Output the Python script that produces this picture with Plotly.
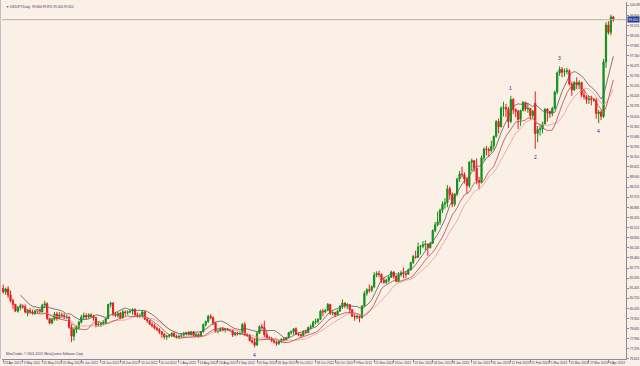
import pandas as pd
import plotly.graph_objects as go

# ---------------- data (USDJPY, Daily) ----------------
dates = [d.strftime("%Y-%m-%d") for d in pd.bdate_range("2012-04-23", "2013-04-10")
         if d.strftime("%m-%d") not in ("12-25", "01-01")]

opens = [
 81.40,81.15,81.35,80.95,80.55,80.30,79.85,80.10,80.20,80.15,
 79.70,79.90,79.80,79.70,79.85,79.95,79.80,80.25,80.35,79.35,
 79.05,79.30,79.65,79.35,79.60,79.55,79.40,79.45,78.75,78.15,
 78.60,78.75,79.10,79.45,79.55,79.45,79.60,79.50,79.40,78.90,
 78.95,79.00,79.05,79.35,80.30,80.40,79.65,79.55,79.70,79.40,
 79.80,79.75,79.80,79.85,79.95,79.60,79.50,79.55,79.80,79.30,
 79.20,78.95,78.85,78.70,78.60,78.45,78.30,78.10,78.15,78.20,
 78.35,78.15,78.10,78.15,78.25,78.30,78.40,78.25,78.45,78.20,
 78.25,78.15,78.45,78.95,79.15,79.50,79.40,79.05,78.45,78.50,
 78.65,78.55,78.65,78.60,78.55,78.25,78.35,78.30,78.35,78.95,
 78.25,78.20,77.85,77.75,77.55,78.35,78.80,78.75,78.25,78.05,
 78.00,77.85,77.75,77.65,77.80,77.95,77.90,78.05,78.40,78.45,
 78.65,78.30,78.25,78.20,78.45,78.40,78.75,78.80,79.10,79.15,
 79.30,79.85,79.80,79.90,80.30,79.70,79.75,79.60,79.85,80.20,
 80.40,80.25,80.30,79.95,79.50,79.45,79.50,79.40,80.20,81.05,
 81.30,81.25,81.50,82.30,82.40,82.35,81.95,81.80,81.95,82.15,
 82.50,82.20,81.90,82.30,82.45,82.40,82.35,82.65,83.15,83.55,
 83.50,84.20,84.25,84.35,84.40,84.15,84.45,85.30,85.70,85.90,
 86.70,87.10,87.20,88.15,87.75,87.10,87.80,88.80,89.15,89.10,
 88.80,88.35,89.95,90.05,89.55,88.70,88.60,90.25,90.85,90.80,
 90.75,91.05,91.70,92.70,92.35,93.60,93.65,93.55,92.70,94.20,
 93.50,93.40,92.85,93.45,94.00,93.55,93.60,93.10,93.95,91.90,
 92.15,92.20,92.55,93.55,93.40,93.25,93.60,94.70,96.00,96.25,
 96.05,96.10,96.15,95.25,94.85,95.35,95.20,95.35,94.50,94.40,
 94.20,94.25,94.20,94.15,93.25,93.35,93.05,96.75,99.25,98.75,
 99.80]

highs = [
 81.65,81.45,81.55,81.25,80.70,80.35,80.20,80.35,80.30,80.30,
 80.00,80.05,79.95,79.95,80.00,80.00,80.35,80.55,80.45,79.40,
 79.40,79.80,79.80,79.80,79.75,79.70,79.60,79.50,78.95,78.75,
 78.85,79.20,79.60,79.75,79.70,79.70,79.70,79.60,79.45,79.15,
 79.10,79.25,79.40,80.35,80.50,80.45,79.80,79.80,79.80,79.95,
 79.90,79.90,79.90,80.05,80.05,79.75,79.70,79.90,79.85,79.40,
 79.25,79.10,79.00,78.80,78.70,78.50,78.35,78.25,78.30,78.40,
 78.45,78.25,78.20,78.35,78.45,78.45,78.50,78.50,78.50,78.40,
 78.35,78.50,79.00,79.20,79.60,79.65,79.50,79.10,78.60,78.75,
 78.75,78.70,78.70,78.65,78.60,78.45,78.45,78.40,79.05,79.10,
 78.35,78.30,78.00,78.00,78.50,78.90,79.00,79.20,78.50,78.15,
 78.10,77.95,77.85,77.85,78.00,78.10,78.10,78.45,78.55,78.70,
 78.75,78.40,78.35,78.55,78.60,78.80,78.95,79.20,79.35,79.35,
 79.95,80.00,80.00,80.40,80.35,79.85,79.80,79.95,80.25,80.65,
 80.45,80.40,80.30,80.00,79.65,79.60,79.55,80.25,81.20,81.40,
 81.65,81.60,82.50,82.55,82.60,82.40,82.15,82.05,82.25,82.60,
 82.55,82.30,82.50,82.60,82.80,82.55,82.75,83.20,83.65,83.95,
 84.50,84.35,84.60,84.65,84.45,84.55,85.40,85.90,86.60,86.80,
 87.30,87.50,88.40,88.30,87.90,87.85,88.90,89.35,89.65,89.25,
 88.95,90.00,90.20,90.10,90.20,88.95,90.40,90.95,91.05,90.95,
 91.40,91.75,92.80,92.90,93.75,94.05,93.90,93.70,94.45,94.30,
 93.60,93.50,93.50,94.10,94.05,93.95,93.60,93.50,94.75,92.40,
 92.45,92.70,93.60,93.60,93.40,93.70,94.80,96.10,96.45,96.40,
 96.30,96.35,96.25,95.40,95.45,95.70,95.50,95.40,94.90,94.50,
 94.45,94.45,94.30,94.30,93.50,93.50,96.95,99.45,99.50,99.95,
 99.87]

lows = [
 81.05,80.95,80.75,80.45,80.00,79.80,79.75,79.90,80.00,79.70,
 79.50,79.65,79.60,79.60,79.70,79.70,79.75,80.05,79.25,78.95,
 78.95,79.20,79.20,79.30,79.40,79.30,79.30,78.65,77.75,77.85,
 78.35,78.60,79.00,79.30,79.30,79.35,79.40,79.20,78.75,78.80,
 78.80,78.90,78.95,79.30,80.10,79.50,79.45,79.40,79.30,79.35,
 79.55,79.60,79.70,79.60,79.50,79.40,79.40,79.40,79.25,79.05,
 78.90,78.75,78.60,78.50,78.30,78.05,77.95,77.90,78.05,78.10,
 78.10,78.00,78.00,78.05,78.05,78.20,78.20,78.20,78.15,78.10,
 78.05,78.10,78.40,78.80,79.05,79.30,78.90,78.40,78.35,78.45,
 78.50,78.40,78.50,78.50,78.10,78.15,78.20,78.25,78.30,78.15,
 78.10,77.80,77.65,77.40,77.50,78.30,78.60,78.10,77.95,77.90,
 77.75,77.65,77.50,77.55,77.70,77.80,77.85,78.00,78.25,78.25,
 78.25,78.15,78.05,78.15,78.30,78.35,78.60,78.75,78.95,79.00,
 79.25,79.50,79.70,79.85,79.60,79.55,79.45,79.55,79.80,80.00,
 80.05,80.00,79.70,79.45,79.20,79.30,79.10,79.35,80.15,80.90,
 81.10,81.15,81.40,82.15,82.15,81.75,81.70,81.70,81.80,82.10,
 82.05,81.80,81.85,82.20,82.10,82.10,82.30,82.60,83.05,83.40,
 83.45,83.70,84.10,83.95,83.60,84.10,84.40,85.20,85.60,85.70,
 86.50,86.80,86.90,87.40,86.90,86.95,87.65,88.60,88.90,88.50,
 87.80,88.20,89.35,89.30,88.45,88.10,88.55,90.05,90.40,90.30,
 90.60,90.80,91.60,91.90,92.30,93.05,93.00,92.25,92.60,93.20,
 93.00,92.20,92.40,93.40,93.40,93.30,92.80,92.95,90.85,91.30,
 91.75,91.90,92.50,92.70,92.95,93.05,93.50,94.55,95.80,95.70,
 95.75,95.90,95.15,94.45,94.80,94.90,94.90,94.35,94.20,93.90,
 93.90,93.80,94.05,92.90,92.60,92.80,92.95,96.35,98.60,98.55,
 99.45]

closes = [
 81.15,81.35,80.95,80.55,80.30,79.85,80.10,80.20,80.15,79.80,
 79.90,79.80,79.70,79.85,79.95,79.80,80.25,80.35,79.35,79.05,
 79.30,79.65,79.35,79.60,79.55,79.40,79.45,78.75,78.15,78.60,
 78.75,79.10,79.45,79.55,79.45,79.60,79.50,79.40,78.90,78.95,
 79.00,79.05,79.35,80.30,80.40,79.65,79.55,79.70,79.40,79.80,
 79.75,79.80,79.85,79.95,79.60,79.50,79.55,79.80,79.30,79.20,
 78.95,78.85,78.70,78.60,78.45,78.30,78.10,78.15,78.20,78.35,
 78.15,78.10,78.15,78.25,78.30,78.40,78.25,78.45,78.20,78.25,
 78.15,78.45,78.95,79.15,79.50,79.40,79.05,78.45,78.50,78.65,
 78.55,78.65,78.60,78.55,78.25,78.35,78.30,78.35,78.95,78.25,
 78.20,77.85,77.75,77.55,78.35,78.80,78.75,78.25,78.05,78.00,
 77.85,77.75,77.65,77.80,77.95,77.90,78.05,78.40,78.45,78.65,
 78.30,78.25,78.20,78.45,78.40,78.75,78.80,79.10,79.15,79.30,
 79.85,79.80,79.90,80.30,79.70,79.75,79.60,79.85,80.20,80.40,
 80.25,80.30,79.95,79.50,79.45,79.50,79.40,80.20,81.05,81.30,
 81.25,81.50,82.30,82.40,82.35,81.95,81.80,81.95,82.15,82.50,
 82.20,81.90,82.30,82.45,82.40,82.35,82.65,83.15,83.55,83.50,
 84.20,84.25,84.35,84.40,84.15,84.45,85.30,85.70,85.90,86.70,
 87.10,87.20,88.15,87.75,87.10,87.80,88.80,89.15,89.10,88.80,
 88.35,89.95,90.05,89.55,88.70,88.60,90.25,90.85,90.80,90.75,
 91.05,91.70,92.70,92.35,93.60,93.65,93.55,92.70,94.20,93.50,
 93.40,92.85,93.45,94.00,93.55,93.60,93.10,93.40,91.90,92.15,
 92.20,92.55,93.55,93.40,93.25,93.60,94.70,96.00,96.25,96.05,
 96.10,96.15,95.25,94.85,95.35,95.20,95.35,94.50,94.40,94.20,
 94.25,94.20,94.15,93.25,93.35,93.05,96.75,99.25,98.75,99.80,
 99.61]

x_tick_dates = ["2012-04-23","2012-05-03","2012-05-15","2012-05-25","2012-06-06","2012-06-18",
    "2012-06-28","2012-07-10","2012-07-20","2012-08-01","2012-08-13","2012-08-23","2012-09-04",
    "2012-09-14","2012-09-26","2012-10-08","2012-10-18","2012-10-30","2012-11-09","2012-11-21",
    "2012-12-03","2012-12-13","2012-12-26","2013-01-08","2013-01-18","2013-01-30","2013-02-11",
    "2013-02-21","2013-03-05","2013-03-15","2013-03-27","2013-04-08"]
x_tick_labels = ["23 Apr 2012","3 May 2012","15 May 2012","25 May 2012","6 Jun 2012","18 Jun 2012",
    "28 Jun 2012","10 Jul 2012","20 Jul 2012","1 Aug 2012","13 Aug 2012","23 Aug 2012","4 Sep 2012",
    "14 Sep 2012","26 Sep 2012","8 Oct 2012","18 Oct 2012","30 Oct 2012","9 Nov 2012","21 Nov 2012",
    "3 Dec 2012","13 Dec 2012","26 Dec 2012","8 Jan 2013","18 Jan 2013","30 Jan 2013","11 Feb 2013",
    "21 Feb 2013","5 Mar 2013","15 Mar 2013","27 Mar 2013","8 Apr 2013"]

y_tick_labels = ["76.610","77.295","77.980","78.665","79.350","80.035","80.720","81.405","82.090",
    "82.775","83.460","84.145","84.830","85.515","86.200","86.885","87.570","88.255","88.940",
    "89.625","90.310","90.995","91.680","92.365","93.050","93.735","94.420","95.105","95.790",
    "96.475","97.160","97.845","98.530","99.215","99.900","100.585"]

wave_dates = ["2012-09-13", "2013-02-11", "2013-02-25", "2013-03-11", "2013-04-02"]
wave_labels = ["4", "1", "2", "3", "4"]
wave_above = [False, True, False, True, False]

# ---------------- figure ----------------
BG = "#FBF0E5"
TXT = "#33336e"
AX = "#8a8a9a"
SMALL = 3.2

df = pd.DataFrame({"o": opens, "h": highs, "l": lows, "c": closes}, index=dates)
ma_high = df["h"].rolling(8).mean()
ma_low = df["l"].rolling(8).mean()
ma_low2 = df["l"].rolling(13).mean()

fig = go.Figure()
fig.add_trace(go.Scatter(x=dates, y=ma_low2, mode="lines", line=dict(color="#e89a9a", width=0.8), hoverinfo="skip"))
fig.add_trace(go.Scatter(x=dates, y=ma_low, mode="lines", line=dict(color="#b84848", width=0.8), hoverinfo="skip"))
fig.add_trace(go.Scatter(x=dates, y=ma_high, mode="lines", line=dict(color="#5a5a5a", width=0.8), hoverinfo="skip"))
fig.add_trace(go.Candlestick(
    x=dates, open=opens, high=highs, low=lows, close=closes,
    increasing=dict(line=dict(color="#12901a", width=1), fillcolor="#12901a"),
    decreasing=dict(line=dict(color="#e81c1c", width=1), fillcolor="#e81c1c"),
    whiskerwidth=0,
))

last_close = closes[-1]
fig.add_shape(type="line", xref="paper", x0=0, x1=1, yref="y", y0=last_close, y1=last_close,
              line=dict(color="#b4b0ac", width=1))
fig.add_shape(type="line", xref="paper", x0=-0.003, x1=-0.003, yref="paper", y0=0, y1=1.01,
              line=dict(color="#a0a0b4", width=1))

ann = []
ann.append(dict(xref="paper", yref="y", x=1, y=last_close, xanchor="left", yanchor="middle",
                text="%.3f" % last_close, showarrow=False, bgcolor="#1c3c96",
                font=dict(color="white", size=SMALL), borderpad=0.5, xshift=1))
ann.append(dict(xref="paper", yref="paper", x=0, y=1, xanchor="left", yanchor="top",
                text="▼ USDJPY,Daily  %.3f %.3f %.3f %.3f" % (opens[-1], highs[-1], lows[-1], closes[-1]),
                showarrow=False, font=dict(color=TXT, size=SMALL), xshift=2, yshift=-1))
ann.append(dict(xref="paper", yref="paper", x=0, y=0, xanchor="left", yanchor="bottom",
                text="MetaTrader, © 2001-2013, MetaQuotes Software Corp.", showarrow=False,
                font=dict(color=TXT, size=SMALL), xshift=2, yshift=1))
for d, lab, above in zip(wave_dates, wave_labels, wave_above):
    i = dates.index(d)
    yv = highs[i] if above else lows[i]
    ann.append(dict(x=d, y=yv, text=lab, showarrow=False, font=dict(color="#2a2a9a", size=5),
                    yanchor="bottom" if above else "top", yshift=3 if above else -3))

fig.update_layout(
    width=640, height=366,
    margin=dict(l=2, r=14, t=2, b=7),
    paper_bgcolor=BG, plot_bgcolor=BG,
    showlegend=False,
    font=dict(family="Liberation Sans, Arial, sans-serif", size=SMALL, color=TXT),
    annotations=ann,
    xaxis=dict(type="category", range=[-0.5, 255.2], rangeslider=dict(visible=False),
               tickmode="array", tickvals=x_tick_dates, ticktext=x_tick_labels, tickangle=0,
               ticks="outside", ticklen=3, tickcolor=AX, tickfont=dict(size=SMALL, color=TXT),
               ticklabelposition="outside right", ticklabelstandoff=0, automargin=False,
               showgrid=False, zeroline=False, showline=True, linecolor=AX, linewidth=1),
    yaxis=dict(side="right", range=[76.605, 100.81], automargin=False,
               tickmode="array", tickvals=[float(v) for v in y_tick_labels], ticktext=y_tick_labels,
               ticks="outside", ticklen=2, tickcolor=AX, tickfont=dict(size=SMALL, color=TXT),
               showgrid=False, zeroline=False, showline=True, linecolor=AX, linewidth=1),
)

fig.write_html("out.html")
